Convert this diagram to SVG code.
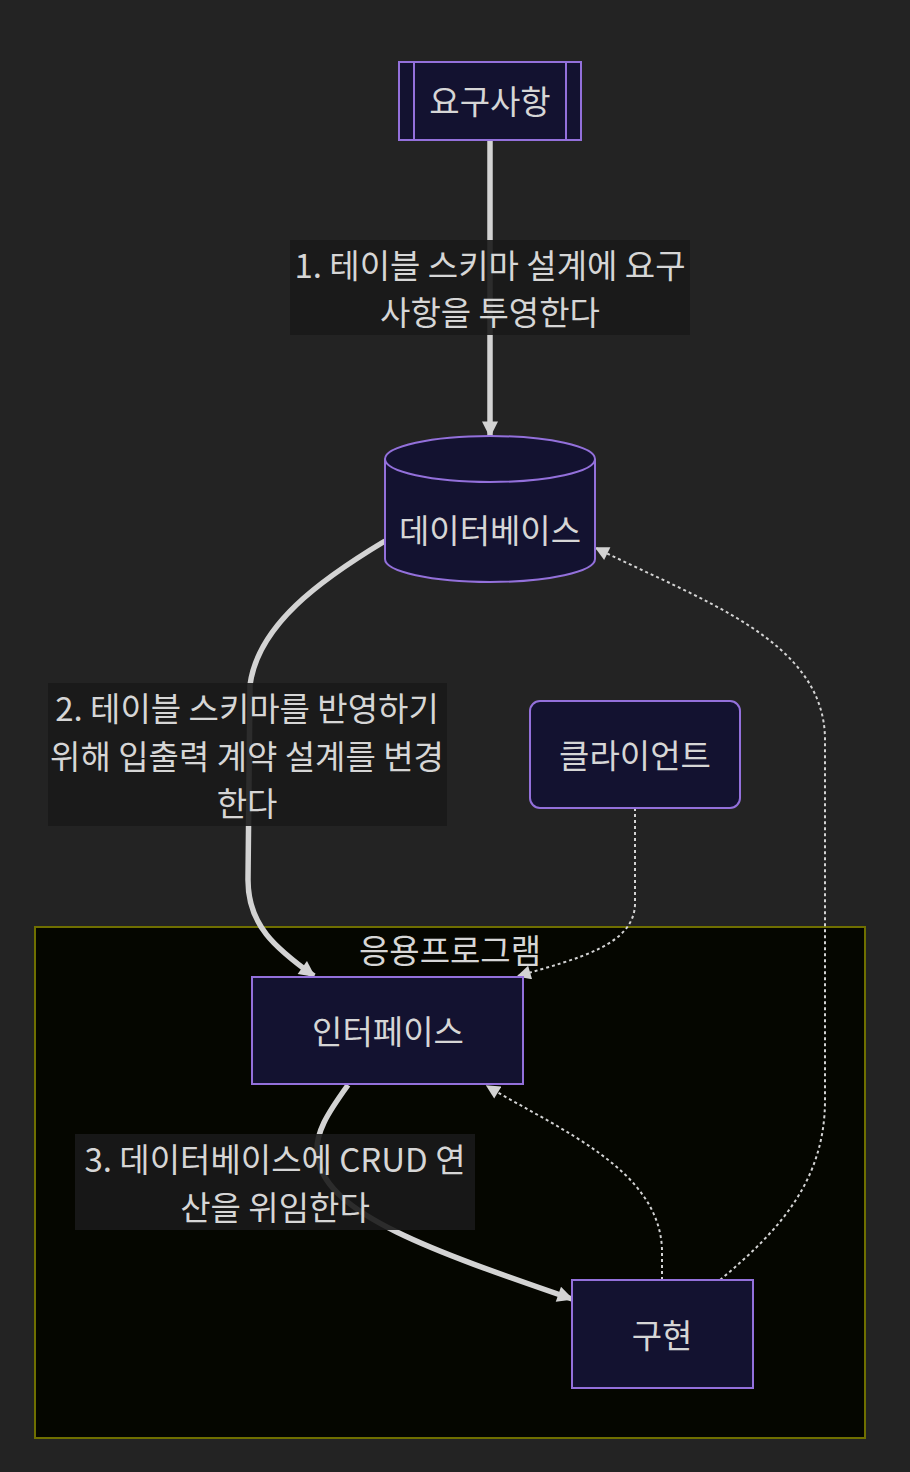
<svg xmlns="http://www.w3.org/2000/svg" width="910" height="1472" viewBox="0 0 910 1472">
<defs>
<style>
text{font-family:"Noto Sans CJK KR","Noto Sans",sans-serif;font-size:33px;fill:#d6d6d6;text-anchor:middle;dominant-baseline:central}
.node{fill:#131230;stroke:#9370db;stroke-width:2}
.thick{fill:none;stroke:#d3d3d3;stroke-width:5.5}
.dot{fill:none;stroke:#d3d3d3;stroke-width:2;stroke-dasharray:3 3}
.lbl{fill:#1a1a1a;fill-opacity:0.9}
</style>
<marker id="ah" viewBox="0 0 10 10" refX="9" refY="5" markerWidth="18" markerHeight="16" markerUnits="userSpaceOnUse" orient="auto">
<path d="M0,0 L10,5 L0,10 z" fill="#d3d3d3"/>
</marker>
<marker id="ahd" viewBox="0 0 10 10" refX="9" refY="5" markerWidth="15" markerHeight="14" markerUnits="userSpaceOnUse" orient="auto">
<path d="M0,0 L10,5 L0,10 z" fill="#d3d3d3"/>
</marker>
</defs>
<rect x="0" y="0" width="910" height="1472" fill="#232323"/>
<g id="cluster-app">
<rect x="35" y="927" width="830" height="511" fill="#050600" stroke="#6f6f00" stroke-width="2"/>
<text x="450" y="949">응용프로그램</text>
</g>
<g id="edges">
<path class="thick" d="M490,140 L490,436" marker-end="url(#ah)"/>
<path class="thick" d="M385,541 C320,580 258,625 250,685 L248,880 C248,925 275,948 314,976" marker-end="url(#ah)"/>
<path class="dot" d="M635,808 L635,905 C633,945 580,958 518,976" marker-end="url(#ahd)"/>
<path class="thick" d="M348,1085 C330,1110 312,1135 318,1160 C330,1215 430,1250 572,1299" marker-end="url(#ah)"/>
<path class="dot" d="M662,1280 L662,1250 C660,1170 560,1130 487,1086" marker-end="url(#ahd)"/>
<path class="dot" d="M720,1280 C780,1230 825,1180 825,1100 L825,740 C825,640 700,600 596,548" marker-end="url(#ahd)"/>
</g>
<g id="edge-labels">
<g id="label-1">
<rect class="lbl" x="290" y="240" width="400" height="95"/>
<text x="490" y="264">1. 테이블 스키마 설계에 요구</text>
<text x="490" y="311">사항을 투영한다</text>
</g>
<g id="label-2">
<rect class="lbl" x="48" y="683" width="399" height="143"/>
<text x="247" y="707">2. 테이블 스키마를 반영하기</text>
<text x="247" y="755">위해 입출력 계약 설계를 변경</text>
<text x="247" y="802">한다</text>
</g>
<g id="label-3">
<rect class="lbl" x="75" y="1134" width="400" height="96"/>
<text x="275" y="1158">3. 데이터베이스에 CRUD 연</text>
<text x="275" y="1206">산을 위임한다</text>
</g>
</g>
<g id="node-requirements">
<rect class="node" x="399" y="62" width="182" height="78"/>
<line x1="414" y1="62" x2="414" y2="140" stroke="#9370db" stroke-width="2"/>
<line x1="566" y1="62" x2="566" y2="140" stroke="#9370db" stroke-width="2"/>
<text x="490" y="100">요구사항</text>
</g>
<g id="node-database">
<path class="node" d="M385,459 a105,23 0 0 0 210,0 a105,23 0 0 0 -210,0 l0,100 a105,23 0 0 0 210,0 l0,-100"/>
<text x="490" y="529">데이터베이스</text>
</g>
<g id="node-client">
<rect class="node" x="530" y="701" width="210" height="107" rx="10" ry="10"/>
<text x="635" y="754">클라이언트</text>
</g>
<g id="node-interface">
<rect class="node" x="252" y="977" width="271" height="107"/>
<text x="388" y="1030">인터페이스</text>
</g>
<g id="node-impl">
<rect class="node" x="572" y="1280" width="181" height="108"/>
<text x="662" y="1334">구현</text>
</g>
</svg>
